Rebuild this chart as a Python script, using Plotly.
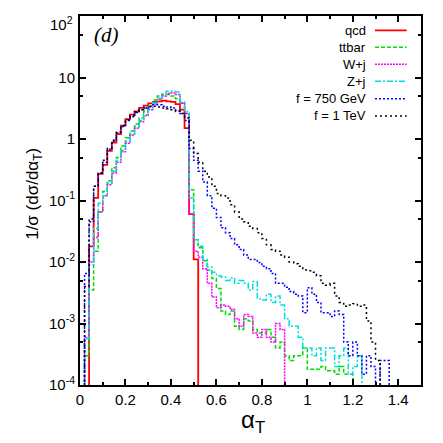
import numpy as np
import plotly.graph_objects as go

# alpha_T histograms, bin width 0.02 starting at 0 (1/sigma dsigma/dalpha_T)
bin_width = 0.02

qcd = [0, 0, 0.018, 0.11, 0.27, 0.38, 0.64, 0.87, 1.2, 1.65, 2.1, 2.5, 2.8, 3.2, 3.5, 3.8,
       4.0, 4.1, 4.2, 4.1, 4.0, 3.7, 3.0, 1.5, 0.06, 0.011, 0]

ttbar = [0, 0.0003, 0.0035, 0.015, 0.065, 0.14, 0.21, 0.34, 0.5, 0.77, 1.05, 1.35, 1.75, 2.2,
         2.8, 3.4, 4.3, 5.0, 5.3, 5.3, 5.0, 4.5, 3.8, 2.6, 0.15, 0.02, 0.017, 0.0105, 0.0074,
         0.0054, 0.0037, 0.0016, 0.0014, 0.0016, 0.0009, 0.0008, 0.0012, 0.0011, 0.0008, 0.0007,
         0.0007, 0.0008, 0.0006, 0.0004, 0.0005, 0.0003, 0.00025, 0.0003, 0.0003, 0.0004,
         0.00018, 0.00018, 0.00018, 0.0002, 0.00017, 0.00017, 0.00015, 0.0002, 0.00015,
         0.00015, 0]

wj = [0, 0.0006, 0.01, 0.025, 0.065, 0.12, 0.18, 0.28, 0.42, 0.62, 0.85, 1.15, 1.5, 1.9, 2.4,
      3.0, 3.7, 4.4, 5.0, 5.5, 5.6, 5.3, 3.8, 2.6, 0.06, 0.015, 0.012, 0.0078, 0.0045, 0.0027,
      0.0018, 0.002, 0.0019, 0.0017, 0.0012, 0.0009, 0.0014, 0.0013, 0.0007, 0.0006, 0.0008,
      0.0006, 0.0005, 0.001, 0.0008, 0]

zj = [0, 0.00057, 0.009, 0.035, 0.09, 0.12, 0.19, 0.3, 0.45, 0.65, 0.9, 1.2, 1.6, 2.0, 2.5,
      3.1, 3.8, 4.6, 5.4, 6.0, 6.0, 5.8, 4.0, 2.8, 0.11, 0.023, 0.018, 0.011, 0.0083, 0.0068,
      0.006, 0.0057, 0.005, 0.0055, 0.0045, 0.005, 0.0045, 0.0035, 0.0048, 0.0025, 0.0024,
      0.003, 0.0022, 0.0028, 0.002, 0.0012, 0.0009, 0.0009, 0.0006, 0.0004, 0.0004, 0.0003,
      0.0004, 0.00025, 0.0004, 0.0004, 0.0002, 0.0003, 0.0004, 0.00015, 0.0002, 0.0003, 0]

f750 = [0, 0.0065, 0.045, 0.17, 0.28, 0.42, 0.68, 0.92, 1.25, 1.6, 2.0, 2.3, 2.7, 3.0, 3.2,
        3.4, 3.6, 3.6, 3.4, 3.3, 3.2, 2.9, 2.6, 2.0, 0.7, 0.45, 0.3, 0.2, 0.12, 0.075, 0.053,
        0.036, 0.03, 0.024, 0.019, 0.016, 0.013, 0.011, 0.011, 0.0098, 0.0085, 0.0078, 0.0065,
        0.0045, 0.0045, 0.0039, 0.0033, 0.003, 0.0028, 0.0015, 0.0038, 0.003, 0.0022, 0.0015,
        0.0015, 0.0013, 0.0016, 0.0014, 0.0005, 0.0003, 0.0005, 0.0003, 0.00015, 0.0003,
        0.0002, 0, 0.00025, 0.00025, 0]

f1tev = [0, 0.004, 0.05, 0.17, 0.28, 0.45, 0.7, 0.95, 1.3, 1.65, 2.05, 2.4, 2.75, 3.0, 3.2,
         3.35, 3.4, 3.3, 3.2, 3.1, 3.0, 2.8, 2.6, 2.2, 0.95, 0.58, 0.42, 0.3, 0.24, 0.17, 0.13,
         0.12, 0.11, 0.085, 0.065, 0.05, 0.045, 0.038, 0.035, 0.03, 0.024, 0.019, 0.016, 0.015,
         0.013, 0.012, 0.01, 0.0094, 0.0085, 0.0074, 0.0072, 0.0068, 0.006, 0.0045, 0.0042,
         0.0045, 0.0028, 0.0022, 0.0019, 0.002, 0.0021, 0.0019, 0.002, 0.0011, 0.0005, 0.00025, 0]

series = [
    ("qcd", qcd, "#ff0000", "solid", 1.8),
    ("ttbar", ttbar, "#00dd00", "4px,2px", 1.5),
    ("W+j", wj, "#ff00ff", "2px,1px", 1.5),
    ("Z+j", zj, "#00dddd", "6px,2px,2px,2px", 1.5),
    ("f = 750 GeV", f750, "#0000ff", "2px,2px", 1.5),
    ("f = 1 TeV", f1tev, "#000000", "2px,3px", 1.5),
]

# the top label (10^2) sits a little below its tick, as in the original, so it is
# drawn separately
ytick_vals = [1e-4, 1e-3, 1e-2, 1e-1, 1, 10, 100]
ytick_text = ["10<sup>-4</sup>", "10<sup>-3</sup>", "10<sup>-2</sup>", "10<sup>-1</sup>",
              "1", "10", ""]
ytop_label = "10<sup>2</sup>"
xtick_vals = [0, 0.2, 0.4, 0.6, 0.8, 1.0, 1.2, 1.4]
xtick_text = ["0", "0.2", "0.4", "0.6", "0.8", "1", "1.2", "1.4"]

FONT = "Liberation Sans, Arial, sans-serif"

fig = go.Figure()
for name, vals, color, dash, width in series:
    edges = np.round(np.arange(len(vals) + 1) * bin_width, 2)
    # empty bins drawn far below the axis so the step drops to the frame
    y = [v if v > 0 else 1e-9 for v in vals]
    fig.add_trace(go.Scatter(
        x=edges, y=y + [y[-1]], mode="lines", line_shape="hv", name=name,
        line=dict(color=color, width=width, dash=dash), showlegend=False,
    ))

# hand-made legend: right-aligned text, sample line on the right
leg_y = [0.961, 0.915, 0.869, 0.823, 0.776, 0.729]
for (name, _, color, dash, width), yy in zip(series, leg_y):
    fig.add_annotation(xref="paper", yref="paper", x=0.845, y=yy, text=name,
                       showarrow=False, xanchor="right", yanchor="middle",
                       font=dict(family=FONT, size=13, color="black"))
    fig.add_shape(type="line", xref="paper", yref="paper", x0=0.865, x1=0.958,
                  y0=yy, y1=yy, line=dict(color=color, width=width, dash=dash))

fig.add_annotation(xref="paper", yref="paper", x=0.035, y=0.948, text="<i>(d)</i>",
                   showarrow=False, xanchor="left", yanchor="middle",
                   font=dict(family="Liberation Serif, Times New Roman, serif", size=21,
                             color="black"))

fig.add_annotation(xref="paper", yref="paper", x=0, y=1, xshift=-5, yshift=-7,
                   text=ytop_label, showarrow=False, xanchor="right", yanchor="middle",
                   font=dict(family=FONT, size=15, color="black"))

# axis titles as annotations so the margins stay fixed
fig.add_annotation(xref="paper", yref="paper", x=0.507, y=-0.098, text="α<sub>T</sub>",
                   showarrow=False, xanchor="center", yanchor="middle",
                   font=dict(family=FONT, size=24, color="black"))
fig.add_annotation(xref="paper", yref="paper", x=-0.135, y=0.518,
                   text="1/σ (dσ/dα<sub>T</sub>)", textangle=-90,
                   showarrow=False, xanchor="center", yanchor="middle",
                   font=dict(family=FONT, size=17, color="black"))

axis_common = dict(
    showline=True, linecolor="black", linewidth=2, mirror="allticks",
    ticks="inside", ticklen=6, tickwidth=1.5, tickcolor="black",
    showgrid=False, zeroline=False, automargin=False,
    ticklabeloverflow="allow",
    tickfont=dict(family=FONT, size=15, color="black"),
)

fig.update_xaxes(
    range=[0, 1.5], tickvals=xtick_vals, ticktext=xtick_text,
    minor=dict(tickvals=[0.1, 0.3, 0.5, 0.7, 0.9, 1.1, 1.3, 1.5], ticks="inside",
               ticklen=3, tickcolor="black"),
    **axis_common,
)
fig.update_yaxes(
    type="log", range=[-4, 2], tickvals=ytick_vals, ticktext=ytick_text,
    minor=dict(tickvals=[5e-4, 5e-3, 5e-2, 0.5, 5, 50], ticks="inside",
               ticklen=3, tickcolor="black"),
    **axis_common,
)

fig.update_layout(
    width=435, height=435,
    margin=dict(l=72, r=22, t=8, b=58),
    paper_bgcolor="white", plot_bgcolor="white",
    showlegend=False,
)

fig.write_html("out.html")
